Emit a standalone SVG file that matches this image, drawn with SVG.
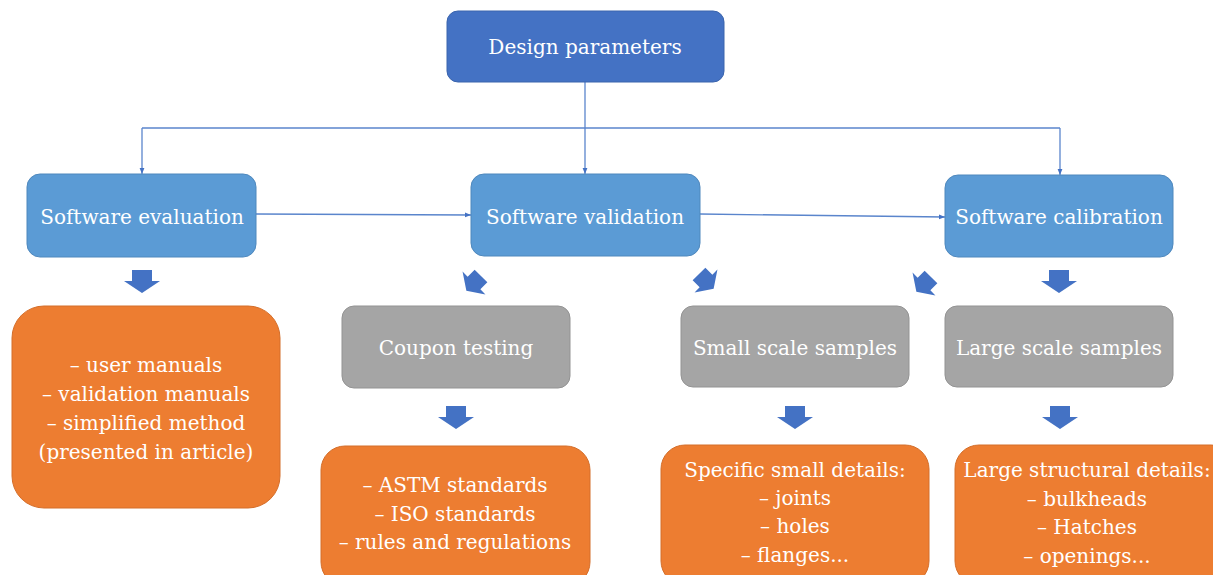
<svg xmlns="http://www.w3.org/2000/svg" width="1213" height="575" viewBox="0 0 1213 575">
<style>
.t{font-family:"DejaVu Serif","Liberation Serif",serif;font-size:20px;fill:#fff;text-anchor:middle}
.dark{fill:#4472C4;stroke:#3A64AD;stroke-width:1}
.blue{fill:#5B9BD5;stroke:#4F88BD;stroke-width:1}
.gray{fill:#A5A5A5;stroke:#939393;stroke-width:1}
.orange{fill:#ED7D31;stroke:#D46E2A;stroke-width:1}
.conn{fill:none;stroke:#5A85CC;stroke-width:1.3}
.blk{fill:#4472C4}
</style>
<defs>
<marker id="ah" viewBox="0 0 10 10" refX="10" refY="5" markerWidth="6" markerHeight="6" orient="auto" markerUnits="userSpaceOnUse">
<path d="M0,1 L10,5 L0,9 Z" fill="#4472C4"/>
</marker>
<path id="barrow" d="M-10,-11 H10 V0 H18 L0,12 L-18,0 H-10 Z"/>
</defs>
<rect width="1213" height="575" fill="#fff"/>
<g id="connectors">
<path class="conn" d="M585,82 V128"/>
<path class="conn" d="M142,128 H1060"/>
<path class="conn" d="M142,128 V174" marker-end="url(#ah)"/>
<path class="conn" d="M585,128 V174" marker-end="url(#ah)"/>
<path class="conn" d="M1060,128 V175" marker-end="url(#ah)"/>
<path class="conn" d="M256,214 L471,215" marker-end="url(#ah)"/>
<path class="conn" d="M700,214 L945,217" marker-end="url(#ah)"/>
<use href="#barrow" class="blk" transform="translate(142,281)"/>
<use href="#barrow" class="blk" transform="translate(1059,281)"/>
<use href="#barrow" class="blk" transform="translate(474,283) rotate(45) scale(0.9)"/>
<use href="#barrow" class="blk" transform="translate(706,281) rotate(-45) scale(0.9)"/>
<use href="#barrow" class="blk" transform="translate(924,284) rotate(45) scale(0.9)"/>
<use href="#barrow" class="blk" transform="translate(456,417)"/>
<use href="#barrow" class="blk" transform="translate(795,417)"/>
<use href="#barrow" class="blk" transform="translate(1060,417)"/>
</g>
<g id="design">
<rect class="dark" x="447" y="11" width="277" height="71" rx="11"/>
<text class="t" x="585" y="54">Design parameters</text>
</g>
<g id="evaluation">
<rect class="blue" x="27" y="174" width="229" height="83" rx="13"/>
<text class="t" x="142" y="224">Software evaluation</text>
</g>
<g id="validation">
<rect class="blue" x="471" y="174" width="229" height="82" rx="13"/>
<text class="t" x="585" y="224">Software validation</text>
</g>
<g id="calibration">
<rect class="blue" x="945" y="175" width="228" height="82" rx="13"/>
<text class="t" x="1059" y="224">Software calibration</text>
</g>
<g id="coupon">
<rect class="gray" x="342" y="306" width="228" height="82" rx="12"/>
<text class="t" x="456" y="355">Coupon testing</text>
</g>
<g id="small">
<rect class="gray" x="681" y="306" width="228" height="81" rx="12"/>
<text class="t" x="795" y="355">Small scale samples</text>
</g>
<g id="large">
<rect class="gray" x="945" y="306" width="228" height="81" rx="12"/>
<text class="t" x="1059" y="355">Large scale samples</text>
</g>
<g id="manuals">
<rect class="orange" x="12" y="306" width="268" height="202" rx="32"/>
<text class="t" x="146" y="372">– user manuals</text>
<text class="t" x="146" y="401">– validation manuals</text>
<text class="t" x="146" y="430">– simplified method</text>
<text class="t" x="146" y="459">(presented in article)</text>
</g>
<g id="standards">
<rect class="orange" x="321" y="446" width="269" height="140" rx="24"/>
<text class="t" x="455" y="492">– ASTM standards</text>
<text class="t" x="455" y="521">– ISO standards</text>
<text class="t" x="455" y="549">– rules and regulations</text>
</g>
<g id="smalldetails">
<rect class="orange" x="661" y="445" width="268" height="140" rx="24"/>
<text class="t" x="795" y="477">Specific small details:</text>
<text class="t" x="795" y="505">– joints</text>
<text class="t" x="795" y="533">– holes</text>
<text class="t" x="795" y="562">– flanges...</text>
</g>
<g id="largedetails">
<rect class="orange" x="955" y="445" width="280" height="140" rx="24"/>
<text class="t" x="1087" y="477">Large structural details:</text>
<text class="t" x="1087" y="506">– bulkheads</text>
<text class="t" x="1087" y="534">– Hatches</text>
<text class="t" x="1087" y="563">– openings...</text>
</g>
</svg>
